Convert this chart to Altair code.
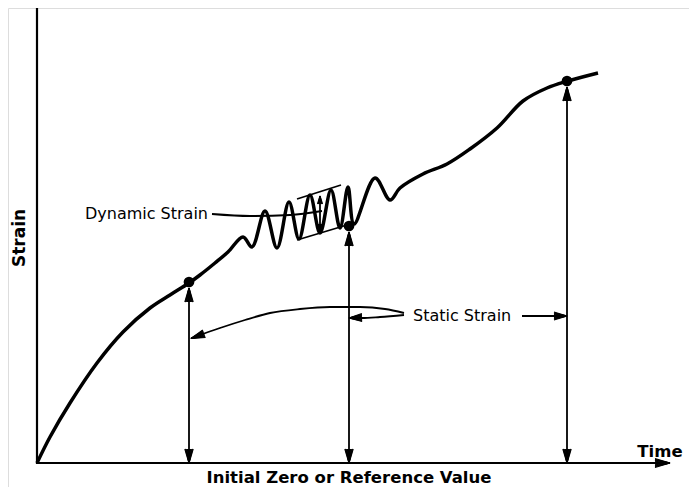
import math
import altair as alt
import pandas as pd

# ---- data (page pixel coordinates of the schematic) ----
curve_x = [37, 50, 70, 97, 123, 150, 170, 189, 200, 215, 228, 243, 252, 265, 277, 289, 299, 310,
           320, 331, 340, 348, 354, 375, 390, 400, 423, 447, 470, 497, 523, 547, 568, 598]
curve_y = [463, 437, 403, 363, 332, 308, 295, 283, 275, 263, 252, 237, 247, 211, 248, 202, 239, 195,
           233, 190, 228, 187, 224, 178, 200, 188, 174, 164, 149, 128, 101, 88, 81, 73]

dot_x = [189, 349, 567]
dot_y = [282, 226, 81]

axis_x = [37, 37, 662]
axis_y = [8, 463, 463]

env_x1 = [297, 297]
env_y1 = [199, 240]
env_x2 = [341, 357]
env_y2 = [185, 222]

dyn_lead_x = [212, 250, 290, 322]
dyn_lead_y = [214, 216, 215, 211]

long_arrow_x = [404, 385, 360, 330, 300, 270, 245, 220, 200, 196]
long_arrow_y = [313, 309, 307, 307, 309, 313, 320, 328, 335, 336.5]
short_arrow_x = [404, 380, 362, 356]
short_arrow_y = [315, 317, 318, 318]
right_arrow_x = [522, 560]
right_arrow_y = [316, 316]

small_arrow_x = 320
small_arrow_y = [196, 232]

labels = ["Dynamic Strain", "Static Strain"]
label_x = [208, 413]
label_y = [214, 316]

bold_labels = ["Time", "Initial Zero or Reference Value"]
bold_x = [660, 349]
bold_y = [452, 478]

# ---- scales: data are page pixels ----
X = alt.Scale(domain=[8, 689])
Y = alt.Scale(domain=[8, 487], reverse=True)
W, H = 681, 479


def enc(**kw):
    return dict(x=alt.X("x:Q", scale=X, axis=None),
                y=alt.Y("y:Q", scale=Y, axis=None), **kw)


curve = pd.DataFrame({"x": curve_x, "y": curve_y, "o": range(len(curve_x))})
dots = pd.DataFrame({"x": dot_x, "y": dot_y})
axes_df = pd.DataFrame({"x": axis_x, "y": axis_y, "o": range(3)})

thin = []


def add_thin(xs, ys, g):
    for i, (a, b) in enumerate(zip(xs, ys)):
        thin.append({"x": float(a), "y": float(b), "g": g, "o": i})


for i, (xx, yy) in enumerate(zip(dot_x, dot_y)):
    add_thin([xx, xx], [yy + 10, 455], f"v{i}")
for i in range(2):
    add_thin([env_x1[i], env_x2[i]], [env_y1[i], env_y2[i]], f"env{i}")
add_thin([small_arrow_x, small_arrow_x], small_arrow_y, "small")
add_thin(dyn_lead_x, dyn_lead_y, "dyn")
add_thin(long_arrow_x, long_arrow_y, "long")
add_thin(short_arrow_x, short_arrow_y, "short")
add_thin(right_arrow_x, right_arrow_y, "right")
thin_df = pd.DataFrame(thin)

# arrowheads: a fan of thin strokes from the tip to the base fills the triangle
fan_rows = []


def head(tx, ty, ang, L, w, g):
    r = math.radians(ang)
    dx, dy = round(math.sin(r), 6), round(-math.cos(r), 6)
    px, py = -dy, dx
    bx, by = tx - dx * L, ty - dy * L
    n = int(math.ceil(2 * w / 0.7)) + 1
    for k in range(n):
        off = -w + 2 * w * k / (n - 1)
        gid = f"{g}_{k}"
        fan_rows.append({"x": float(tx), "y": float(ty), "g": gid, "o": 0})
        fan_rows.append({"x": bx + px * off, "y": by + py * off, "g": gid, "o": 1})


head(670, 463, 90, 15, 4.5, "axis")
for i, (xx, yy) in enumerate(zip(dot_x, dot_y)):
    head(xx, yy + 6, 0, 14, 4.2, f"up{i}")
    head(xx, 463, 180, 14, 4.2, f"dn{i}")
head(small_arrow_x, small_arrow_y[0], 0, 8, 2.5, "s_up")
head(small_arrow_x, small_arrow_y[1], 180, 8, 2.5, "s_dn")
head(191, 338.5, 250, 14, 4.0, "long")
head(349, 318, 268, 13, 4.0, "short")
head(567, 316, 90, 13, 4.0, "right")
fan_df = pd.DataFrame(fan_rows)

axes_layer = alt.Chart(axes_df).mark_line(color="black", strokeWidth=2.2).encode(
    **enc(order="o:Q"))
thin_layer = alt.Chart(thin_df).mark_line(color="black", strokeWidth=1.8,
                                          interpolate="monotone").encode(
    **enc(detail="g:N", order="o:Q"))
curve_layer = alt.Chart(curve).mark_line(color="black", strokeWidth=3.5,
                                         interpolate="catmull-rom").encode(**enc(order="o:Q"))
dot_layer = alt.Chart(dots).mark_circle(color="black", size=115, opacity=1).encode(**enc())
head_layer = alt.Chart(fan_df).mark_line(color="black", strokeWidth=1.1,
                                         strokeCap="butt").encode(
    **enc(detail="g:N", order="o:Q"))

lab_df = pd.DataFrame({"t": labels, "x": label_x, "y": label_y})
lab_left = alt.Chart(lab_df.iloc[[0]]).mark_text(
    font="DejaVu Sans", fontSize=16, align="right", baseline="middle", color="black").encode(
    **enc(text="t:N"))
lab_right = alt.Chart(lab_df.iloc[[1]]).mark_text(
    font="DejaVu Sans", fontSize=16, align="left", baseline="middle", color="black").encode(
    **enc(text="t:N"))

bold_df = pd.DataFrame({"t": bold_labels, "x": bold_x, "y": bold_y})
bold_layer = alt.Chart(bold_df).mark_text(
    font="DejaVu Sans", fontSize=16.5, fontWeight="bold", align="center", baseline="middle",
    color="black").encode(**enc(text="t:N"))
strain_df = pd.DataFrame({"t": ["Strain"], "x": [20], "y": [238]})
strain_layer = alt.Chart(strain_df).mark_text(
    font="DejaVu Sans", fontSize=17, fontWeight="bold", align="center", baseline="middle",
    angle=270, color="black").encode(**enc(text="t:N"))

chart = alt.layer(axes_layer, thin_layer, curve_layer, dot_layer, head_layer,
                  lab_left, lab_right, bold_layer, strain_layer).properties(
    width=W, height=H, padding=0, autosize=alt.AutoSizeParams(type="none")
).configure_view(strokeWidth=0, stroke="white").configure(background="white")

chart.save("out.html", embed_options={"renderer": "svg", "actions": False})
